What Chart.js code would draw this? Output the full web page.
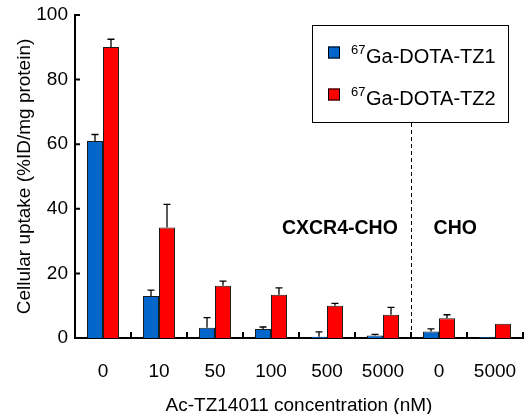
<!DOCTYPE html>
<html>
<head>
<meta charset="utf-8">
<script src="https://cdn.jsdelivr.net/npm/chart.js@4.4.0/dist/chart.umd.min.js"></script>
<style>
  html, body { margin: 0; padding: 0; background: #fff; overflow: hidden; }
  #wrap { width: 524px; height: 414px; }
</style>
</head>
<body>
<div id="wrap"><canvas id="c"></canvas></div>
<script>
// data
const categories = ['0', '10', '50', '100', '500', '5000', '0', '5000']
const tz1 = [61.0, 13.0, 3.2, 2.8, 0.4, 0.8, 2.0, 0.3]
const tz1Err = [2.0, 1.8, 3.1, 0.6, 1.5, 0.3, 0.8, 0]
const tz2 = [90.1, 34.2, 16.2, 13.4, 10.0, 7.2, 6.1, 4.4]
const tz2Err = [2.4, 7.2, 1.4, 2.1, 0.7, 2.3, 1.1, 0]
const yTicks = [0, 20, 40, 60, 80, 100]
const seriesNames = ['Ga-DOTA-TZ1', 'Ga-DOTA-TZ2']
const isotope = '67'
const groups = [
  { label: 'CXCR4-CHO', x: 4.23, y: 34 },
  { label: 'CHO', x: 6.29, y: 34 }
]
const dividerAt = 5.5

const BLUE = '#0066cc'
const RED = '#ff0000'
const FONT = '"Liberation Sans", Arial, sans-serif'

// upward error bars
const errorBars = {
  id: 'errorBars',
  afterDatasetsDraw(chart) {
    const ctx = chart.ctx
    const y = chart.scales.y
    const errs = [tz1Err, tz2Err]
    ctx.save()
    ctx.strokeStyle = '#000'
    ctx.lineWidth = 1.3
    chart.data.datasets.forEach((ds, di) => {
      const meta = chart.getDatasetMeta(di)
      meta.data.forEach((bar, i) => {
        const e = errs[di][i]
        if (!e) return
        const top = y.getPixelForValue(ds.data[i] + e)
        ctx.beginPath()
        ctx.moveTo(bar.x, bar.y)
        ctx.lineTo(bar.x, top)
        ctx.moveTo(bar.x - 3.5, top)
        ctx.lineTo(bar.x + 3.5, top)
        ctx.stroke()
      })
    })
    ctx.restore()
  }
}

// inward ticks, divider, group labels, legend
const decorations = {
  id: 'decorations',
  afterDraw(chart) {
    const ctx = chart.ctx
    const { x, y } = chart.scales
    const area = chart.chartArea
    ctx.save()
    ctx.strokeStyle = '#000'
    ctx.lineWidth = 2
    ctx.beginPath()
    yTicks.forEach(v => {
      const py = y.getPixelForValue(v)
      ctx.moveTo(area.left, py)
      ctx.lineTo(area.left + 5, py)
    })
    for (let i = 0; i < categories.length; i++) {
      const px = x.getPixelForValue(i + 0.5)
      ctx.moveTo(px, area.bottom)
      ctx.lineTo(px, area.bottom - 6)
    }
    ctx.stroke()

    // legend box
    const lx = 312, ly = 25, lw = 196, lh = 97
    ctx.lineWidth = 1
    ctx.strokeRect(lx + 0.5, ly + 0.5, lw, lh)
    const colors = [BLUE, RED]
    const rows = [52.5, 94.5]
    seriesNames.forEach((name, i) => {
      ctx.fillStyle = colors[i]
      ctx.fillRect(328, rows[i] - 6, 12, 12)
      ctx.strokeStyle = '#000'
      ctx.strokeRect(328.5, rows[i] - 5.5, 11, 11)
      ctx.fillStyle = '#000'
      ctx.textBaseline = 'alphabetic'
      ctx.textAlign = 'left'
      ctx.font = '13px ' + FONT
      ctx.fillText(isotope, 351, rows[i] + 1)
      ctx.font = '20px ' + FONT
      ctx.fillText(name, 366, rows[i] + 10)
    })

    // divider
    const dx = Math.round(x.getPixelForValue(dividerAt)) + 0.5
    ctx.setLineDash([4, 3])
    ctx.lineWidth = 1
    ctx.beginPath()
    ctx.moveTo(dx, ly + lh + 1)
    ctx.lineTo(dx, area.bottom)
    ctx.stroke()
    ctx.setLineDash([])

    // group labels
    ctx.font = 'bold 19.5px ' + FONT
    ctx.textAlign = 'center'
    ctx.textBaseline = 'middle'
    groups.forEach(g => {
      ctx.fillText(g.label, x.getPixelForValue(g.x), y.getPixelForValue(g.y))
    })
    ctx.restore()
  }
}

new Chart(document.getElementById('c'), {
  type: 'bar',
  data: {
    labels: categories,
    datasets: [
      { label: isotope + seriesNames[0], data: tz1, backgroundColor: BLUE, borderColor: '#1a1a1a', borderWidth: 1 },
      { label: isotope + seriesNames[1], data: tz2, backgroundColor: RED, borderColor: '#1a1a1a', borderWidth: 1 }
    ]
  },
  options: {
    responsive: true,
    maintainAspectRatio: false,
    animation: false,
    layout: { padding: { top: 15, right: 1, left: 0, bottom: 0 } },
    plugins: {
      legend: { display: false },
      tooltip: { enabled: false }
    },
    datasets: {
      bar: { categoryPercentage: 0.571, barPercentage: 1 }
    },
    scales: {
      x: {
        grid: { display: false, drawTicks: false },
        border: { color: '#000', width: 2 },
        ticks: { color: '#000', font: { family: FONT, size: 19 }, padding: 22, maxRotation: 0, autoSkip: false },
        title: { display: true, text: 'Ac-TZ14011 concentration (nM)', color: '#000', font: { family: FONT, size: 19 }, padding: { top: 0, bottom: -3 } },
        afterFit: s => { s.height = 76; s.paddingLeft = 0; s.paddingRight = 0 }
      },
      y: {
        min: 0, max: 100,
        afterBuildTicks: s => { s.ticks = yTicks.map(v => ({ value: v })) },
        grid: { display: false, drawTicks: false },
        border: { color: '#000', width: 2 },
        ticks: { color: '#000', font: { family: FONT, size: 19 }, padding: 7 },
        title: { display: true, text: 'Cellular uptake (%ID/mg protein)', color: '#000', font: { family: FONT, size: 19 }, padding: { top: 13, bottom: 0 } },
        afterFit: s => { s.width = 75; s.paddingTop = 0; s.paddingBottom = 0 }
      }
    }
  },
  plugins: [errorBars, decorations]
})
</script>
</body>
</html>
